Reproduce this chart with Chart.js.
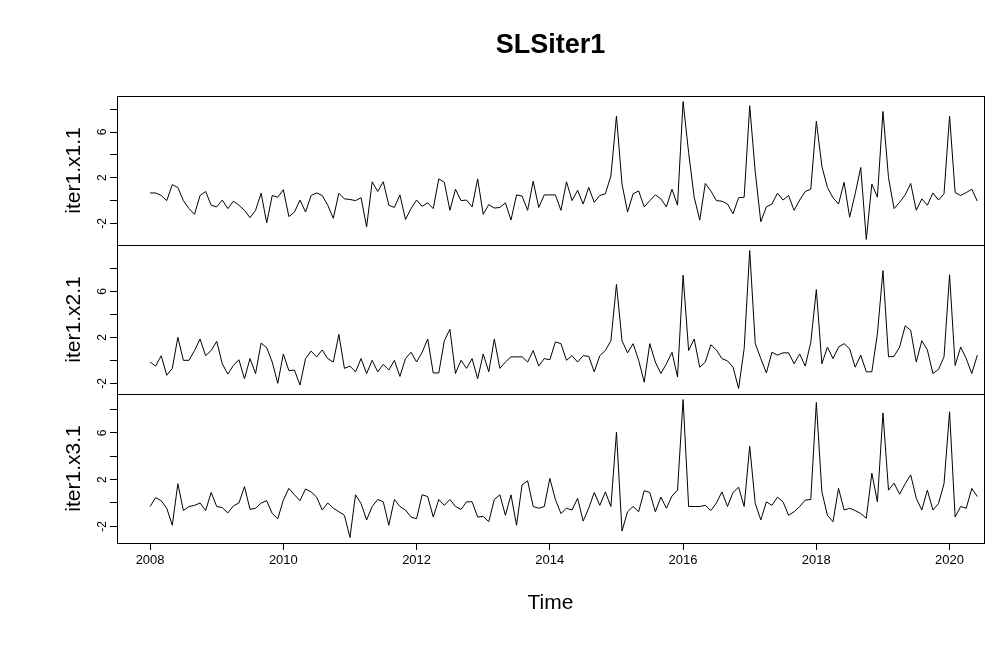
<!DOCTYPE html>
<html>
<head>
<meta charset="utf-8">
<script src="https://cdn.jsdelivr.net/npm/chart.js@4/dist/chart.umd.min.js"></script>
<style>
  html, body { margin: 0; background: #fff; }
  #wrap { width: 1001px; height: 650px; }
</style>
</head>
<body>
<div id="wrap"><canvas id="chart" width="1001" height="650"></canvas></div>
<script>
// monthly series starting Jan 2008
const startYear = 2008;
const seriesNames = ['iter1.x1.1', 'iter1.x2.1', 'iter1.x3.1'];
const yearTicks = [2008, 2010, 2012, 2014, 2016, 2018, 2020];
const yTicks = [-2, 0, 2, 4, 6, 8];
const yLabels = [-2, 2, 6];

const x1 = [
  0.67, 0.67, 0.45, 0.0, 1.4, 1.15, 0.0, -0.7, -1.2, 0.45, 0.8, -0.4,
  -0.55, 0.05, -0.7, -0.05, -0.4, -0.85, -1.5, -0.85, 0.65, -1.95, 0.45, 0.3,
  0.95, -1.4, -1.0, 0.05, -1.0, 0.45, 0.67, 0.45, -0.4, -1.55, 0.65, 0.15,
  0.1, 0.0, 0.25, -2.3, 1.65, 0.8, 1.65, -0.4, -0.6, 0.5, -1.65, -0.7,
  0.05, -0.5, -0.2, -0.7, 1.9, 1.6, -0.85, 1.0, 0.0, 0.05, -0.55, 1.9,
  -1.2, -0.35, -0.65, -0.6, -0.2, -1.7, 0.5, 0.4, -0.85, 1.7, -0.6, 0.5,
  0.5, 0.5, -0.85, 1.65, 0.0, 0.9, -0.3, 1.15, -0.15, 0.45, 0.6, 2.15,
  7.4, 1.45, -1.0, 0.6, 0.85, -0.55, 0.0, 0.5, 0.15, -0.55, 1.0, -0.4,
  8.67, 4.2, 0.3, -1.7, 1.5, 0.85, 0.0, -0.05, -0.3, -1.15, 0.25, 0.3,
  8.3, 2.5, -1.85, -0.55, -0.3, 0.65, 0.05, 0.45, -0.85, 0.05, 0.8, 1.0,
  6.95, 3.0, 1.15, 0.25, -0.3, 1.6, -1.45, 0.6, 2.9, -3.4, 1.45, 0.3,
  7.8, 2.0, -0.7, -0.15, 0.5, 1.5, -0.85, 0.15, -0.4, 0.67, 0.05, 0.6,
  7.4, 0.7, 0.45, 0.7, 1.0, -0.05
];
const x2 = [
  -0.15, -0.5, 0.4, -1.3, -0.7, 2.0, 0.0, 0.0, 0.85, 1.85, 0.4, 0.85,
  1.65, -0.3, -1.2, -0.45, 0.05, -1.6, 0.15, -1.15, 1.5, 1.1, -0.15, -2.0,
  0.55, -0.9, -0.85, -2.15, 0.15, 0.8, 0.3, 0.9, 0.15, -0.15, 2.25, -0.7,
  -0.5, -1.0, 0.15, -1.15, 0.0, -1.0, -0.35, -0.85, 0.0, -1.4, 0.15, 0.7,
  -0.15, 0.7, 1.85, -1.1, -1.1, 1.7, 2.7, -1.15, 0.0, -0.7, 0.15, -1.6,
  0.55, -1.0, 1.85, -0.7, -0.15, 0.3, 0.3, 0.3, -0.15, 0.85, -0.5, 0.15,
  0.05, 1.6, 1.45, 0.0, 0.4, -0.15, 0.4, 0.35, -1.0, 0.4, 0.85, 1.7,
  6.6, 1.7, 0.65, 1.45, 0.0, -1.9, 1.45, -0.15, -1.15, -0.3, 0.7, -1.45,
  7.4, 0.85, 1.85, -0.6, -0.15, 1.35, 0.9, 0.15, -0.05, -0.6, -2.45, 1.0,
  9.55, 1.45, 0.15, -1.1, 0.7, 0.45, 0.65, 0.65, -0.3, 0.55, -0.5, 1.55,
  6.15, -0.3, 1.15, 0.15, 1.15, 1.45, 1.0, -0.6, 0.45, -1.0, -1.0, 2.3,
  7.8, 0.3, 0.35, 1.15, 3.0, 2.6, -0.15, 1.7, 0.9, -1.15, -0.8, 0.3,
  7.45, -0.45, 1.15, 0.15, -1.15, 0.45
];
const x3 = [
  -0.3, 0.45, 0.2, -0.45, -1.9, 1.65, -0.65, -0.3, -0.2, 0.0, -0.65, 0.9,
  -0.3, -0.4, -0.85, -0.25, 0.0, 1.4, -0.55, -0.45, 0.0, 0.2, -0.9, -1.35,
  0.25, 1.25, 0.7, 0.2, 1.2, 0.95, 0.5, -0.6, 0.0, -0.45, -0.75, -1.05,
  -2.95, 0.7, -0.05, -1.45, -0.3, 0.3, 0.1, -1.9, 0.3, -0.3, -0.6, -1.2,
  -1.35, 0.7, 0.55, -1.2, 0.3, -0.2, 0.3, -0.3, -0.55, 0.1, 0.1, -1.2,
  -1.15, -1.6, 0.3, 0.7, -1.05, 0.7, -1.9, 1.55, 1.9, -0.3, -0.45, -0.3,
  2.1, 0.3, -0.9, -0.45, -0.6, 0.4, -1.55, -0.45, 0.9, -0.2, 0.95, -0.3,
  6.05, -2.4, -0.75, -0.3, -0.75, 1.05, 0.9, -0.75, 0.5, -0.45, 0.6, 1.1,
  8.85, -0.3, -0.3, -0.3, -0.2, -0.65, 0.0, 0.95, -0.3, 0.9, 1.35, -0.3,
  4.85, -0.05, -1.45, 0.1, -0.2, 0.5, 0.1, -1.05, -0.75, -0.3, 0.25, 0.3,
  8.6, 0.95, -1.05, -1.6, 1.25, -0.6, -0.45, -0.65, -0.9, -1.3, 2.55, 0.1,
  7.7, 1.1, 1.7, 0.75, 1.65, 2.4, 0.4, -0.6, 1.1, -0.6, -0.05, 1.65,
  7.8, -1.2, -0.3, -0.45, 1.25, 0.55
];

const FONT = '"Liberation Sans", Arial, sans-serif';
const times = x1.map((v, i) => startYear + i / 12);
const span = times[times.length - 1] - times[0];

function toPoints(vals) {
  return vals.map((v, i) => ({ x: times[i], y: v }));
}

// R style axis limits: data range widened by 4%
function padRange(vals) {
  const lo = Math.min(...vals);
  const hi = Math.max(...vals);
  const d = (hi - lo) * 0.04;
  return { min: lo - d, max: hi + d };
}

const panelIds = ['yTop', 'yMid', 'yBot'];
const panelData = { yTop: x1, yMid: x2, yBot: x3 };
const panelName = { yTop: seriesNames[0], yMid: seriesNames[1], yBot: seriesNames[2] };

function yScale(id) {
  const r = padRange(panelData[id]);
  return {
    type: 'linear',
    position: 'left',
    stack: 'ts',
    stackWeight: 1,
    offset: false,
    min: r.min,
    max: r.max,
    afterBuildTicks: (s) => { s.ticks = yTicks.map(v => ({ value: v })); },
    afterFit: (s) => { s.width = 117; },
    grid: { drawOnChartArea: false, drawTicks: true, tickLength: 7, color: '#000', lineWidth: 1 },
    border: { display: false },
    ticks: { display: false },
    title: {
      display: true,
      text: panelName[id],
      color: '#000',
      font: { family: FONT, size: 21 },
      padding: { top: 62, bottom: 0 }
    }
  };
}

// boxes round each panel and the upright tick labels, as R draws them
const panelFrame = {
  id: 'panelFrame',
  afterDraw(chart) {
    const { ctx, chartArea } = chart;
    ctx.save();
    ctx.strokeStyle = '#000';
    ctx.lineWidth = 1;
    panelIds.forEach(id => {
      const s = chart.scales[id];
      ctx.strokeRect(Math.round(chartArea.left) + 0.5, Math.round(s.top) + 0.5,
        Math.round(chartArea.width), Math.round(s.height));
    });
    ctx.fillStyle = '#000';
    ctx.font = '12px ' + FONT;
    ctx.textAlign = 'center';
    ctx.textBaseline = 'middle';
    panelIds.forEach(id => {
      const s = chart.scales[id];
      yLabels.forEach(v => {
        ctx.save();
        ctx.translate(s.right - 14, s.getPixelForValue(v));
        ctx.rotate(-Math.PI / 2);
        ctx.fillText(String(v), 0, 0);
        ctx.restore();
      });
    });
    ctx.restore();
  }
};

const scales = {
  x: {
    type: 'linear',
    min: startYear - span * 0.04,
    max: times[times.length - 1] + 0.1,
    afterBuildTicks: (s) => { s.ticks = yearTicks.map(v => ({ value: v })); },
    afterFit: (s) => { s.height = 107; },
    grid: { drawOnChartArea: false, drawTicks: true, tickLength: 7, color: '#000', lineWidth: 1 },
    border: { display: false },
    ticks: {
      color: '#000',
      font: { family: FONT, size: 13 },
      padding: 3,
      maxRotation: 0,
      callback: (v) => String(v)
    },
    title: {
      display: true,
      text: 'Time',
      color: '#000',
      font: { family: FONT, size: 21 },
      padding: { top: 0, bottom: 34 }
    }
  }
};
// chart.js stacks left axes in reverse order, so the bottom panel comes first
['yBot', 'yMid', 'yTop'].forEach(id => { scales[id] = yScale(id); });

const datasets = panelIds.map(id => ({
  label: panelName[id],
  data: toPoints(panelData[id]),
  yAxisID: id,
  borderColor: '#000',
  borderWidth: 1,
  pointRadius: 0,
  tension: 0,
  fill: false
}));

new Chart(document.getElementById('chart'), {
  type: 'line',
  data: { datasets },
  options: {
    responsive: false,
    animation: false,
    devicePixelRatio: 1,
    layout: { padding: { left: 0, right: 17, top: 0, bottom: 0 } },
    scales,
    plugins: {
      legend: { display: false },
      tooltip: { enabled: false },
      title: {
        display: true,
        text: 'SLSiter1',
        color: '#000',
        fullSize: false,
        font: { family: FONT, size: 27, weight: 'bold' },
        padding: { top: 29, bottom: 34.6 }
      }
    }
  },
  plugins: [panelFrame]
});
</script>
</body>
</html>
